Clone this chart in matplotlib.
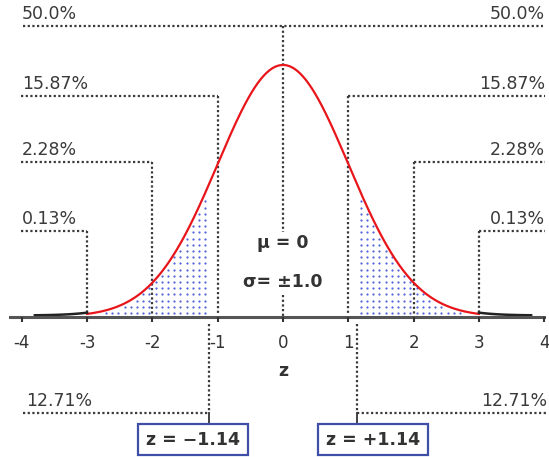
import numpy as np
import matplotlib.pyplot as plt
from matplotlib.patches import Rectangle

plt.rcParams['font.family'] = ['DejaVu Sans']

# chart content
mu = 0
sigma = 1.0
z_ticks = [-4, -3, -2, -1, 0, 1, 2, 3, 4]
z_levels = [0, 1, 2, 3]
tail_labels = ['50.0%', '15.87%', '2.28%', '0.13%']
z_crit = 1.14
crit_label = '12.71%'

# layout of the original picture, in pixels
W, H = 549, 457
X0, PX_PER_Z = 283, 65.3
Y0, PX_PER_D = 316.7, 631
level_y = [26, 96, 162, 230.7]
crit_y = 412.7


def xpx(p):
    return (p - X0) / PX_PER_Z


def ypx(p):
    return (Y0 - p) / PX_PER_D


fig = plt.figure(figsize=(W / 100, H / 100), dpi=100)
ax = fig.add_axes([0, 0, 1, 1])
ax.set_xlim(xpx(0), xpx(W))
ax.set_ylim(ypx(H), ypx(0))
ax.axis('off')


def pdf(z):
    return np.exp(-0.5 * ((z - mu) / sigma) ** 2) / (sigma * np.sqrt(2 * np.pi))


dot = dict(color='#3a3a3a', lw=1.6, ls=(0, (1, 1.1)))
txt = dict(color='#3a3a3a', fontsize=12.5)

# dotted shading of the tails between z_crit and 3 (square grid, ~6 px)
gx = np.arange(z_crit + 0.05, 3.0, 6.2 / PX_PER_Z)
gy = np.arange(0.006, 0.3, 6.2 / PX_PER_D)
mx, my = np.meshgrid(gx, gy)
inside = my < pdf(mx) - 0.004
for s in (-1, 1):
    ax.scatter(s * mx[inside], my[inside], s=2.6, marker='o', color='#5565d8',
               linewidths=0, zorder=2)

# percentage guide lines
for lvl, yp, lab in zip(z_levels, level_y, tail_labels):
    y = ypx(yp)
    if lvl == 0:
        ax.plot([xpx(23), xpx(543)], [y, y], **dot)
        ax.plot([0, 0], [y, ypx(232)], **dot)
        ax.plot([0, 0], [ypx(295), 0], **dot)
    else:
        ax.plot([xpx(21), -lvl], [y, y], **dot)
        ax.plot([-lvl, -lvl], [y, 0.003], **dot)
        ax.plot([lvl, xpx(545)], [y, y], **dot)
        ax.plot([lvl, lvl], [y, 0.003], **dot)
    ax.text(xpx(22), y + 0.005, lab, ha='left', va='bottom', **txt)
    ax.text(xpx(545), y + 0.005, lab, ha='right', va='bottom', **txt)

# curve
zc = np.linspace(-3, 3, 400)
ax.plot(zc, pdf(zc), color='#e8161b', lw=1.6, zorder=4)
for a, b in [(-3.8, -3), (3, 3.8)]:
    zt = np.linspace(a, b, 50)
    ax.plot(zt, pdf(zt) + 0.002, color='#222222', lw=1.8, zorder=4)

# axis
ax.plot([xpx(10), 4.0], [0, 0], color='#555555', lw=2.2, zorder=5)
ax.vlines(z_ticks, ypx(322), 0, color='#333333', lw=1.5, zorder=5)
for t in z_ticks:
    ax.text(t, ypx(342.7), str(t), ha='center', va='center',
            color='#333333', fontsize=12)
ax.text(0, ypx(371), 'z', ha='center', va='center', color='#333333',
        fontsize=12.5, fontweight='bold')

ax.text(0, ypx(243), 'μ = 0', ha='center', va='center', color='#333333',
        fontsize=12.5, fontweight='bold')
ax.text(0, ypx(282), 'σ= ±1.0', ha='center', va='center', color='#333333',
        fontsize=12.5, fontweight='bold')

# critical z boxes
for s in (-1, 1):
    zx = s * z_crit
    ax.plot([zx, zx], [ypx(324), ypx(crit_y)], **dot)
    if s < 0:
        ax.plot([xpx(23), zx], [ypx(crit_y), ypx(crit_y)], **dot)
        ax.text(xpx(26), ypx(crit_y - 3), crit_label, ha='left', va='bottom', **txt)
    else:
        ax.plot([zx, xpx(546)], [ypx(crit_y), ypx(crit_y)], **dot)
        ax.text(xpx(547), ypx(crit_y - 3), crit_label, ha='right', va='bottom', **txt)
    ax.plot([zx, zx], [ypx(crit_y), ypx(424)], color='#333333', lw=1.3)
    cx = s * 1.38
    bw = 110 / PX_PER_Z
    bh = 31 / PX_PER_D
    ax.add_patch(Rectangle((cx - bw / 2, ypx(455)), bw, bh, facecolor='white',
                           edgecolor='#3f4fa8', lw=1.6, zorder=6))
    sign = '\u2212' if s < 0 else '+'
    ax.text(cx, ypx(440), 'z = %s%.2f' % (sign, z_crit), ha='center', va='center',
            color='#333333', fontsize=12.5, fontweight='bold', zorder=7)

fig.savefig('out.png', dpi=100)
